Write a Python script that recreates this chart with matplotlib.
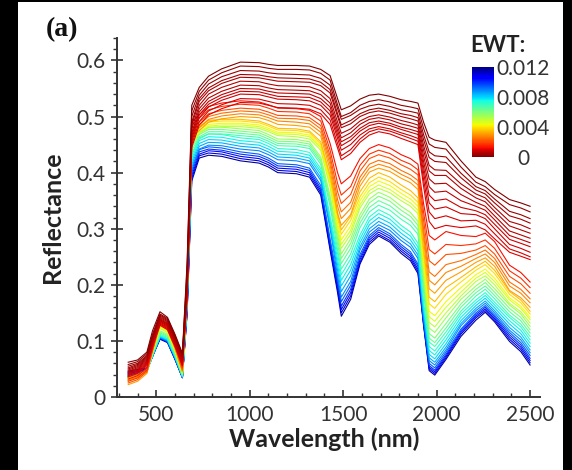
import matplotlib.pyplot as plt
from matplotlib import colors, cm
from matplotlib.patches import Rectangle
from matplotlib.ticker import MultipleLocator, FuncFormatter

# wavelengths (nm) at which each reflectance spectrum is sampled
wavelength = [350, 400, 450, 480, 520, 560, 600, 640, 665, 690,
              730, 780, 850, 950, 1050, 1100, 1150, 1250, 1320,
              1380, 1430, 1470, 1490, 1540, 1590, 1640, 1690, 1750, 1810, 1860,
              1900, 1930, 1960, 1990, 2050, 2130, 2210, 2260, 2310, 2390, 2450, 2500]

# equivalent water thickness of each leaf sample
ewt = [0.0000, 0.0002, 0.0003, 0.0004, 0.0005, 0.0006, 0.0006, 0.0007, 0.0008, 0.0008, 0.0009, 0.0010,
       0.0013, 0.0017, 0.0021, 0.0025, 0.0028, 0.0031,
       0.0035, 0.0039, 0.0043, 0.0047, 0.0051,
       0.0056, 0.0060, 0.0064, 0.0068,
       0.0072, 0.0076, 0.0080, 0.0085, 0.0089,
       0.0094, 0.0099, 0.0104, 0.0110, 0.0117]

# reflectance spectra, one row per sample (same order as ewt)
spectra = [
    [.062, .066, .080, .118, .152, .142, .112, .078, .24, .52,
     .552, .572, .585, .597, .596, .593, .591, .591, .590,
     .584, .573, .532, .512, .519, .531, .538, .540, .536, .530, .527,
     .524, .490, .463, .458, .454, .421, .392, .384, .370, .352, .346, .340],
    [.058, .063, .077, .112, .148, .140, .110, .076, .23, .51,
     .545, .565, .578, .590, .589, .586, .584, .584, .583,
     .577, .565, .521, .500, .507, .520, .527, .530, .526, .520, .517,
     .514, .479, .451, .445, .442, .410, .383, .375, .361, .343, .337, .330],
    [.055, .060, .074, .108, .146, .138, .108, .074, .22, .50,
     .538, .558, .571, .582, .581, .578, .576, .575, .574,
     .568, .556, .514, .495, .502, .513, .519, .522, .518, .512, .509,
     .506, .468, .437, .430, .428, .399, .375, .368, .353, .331, .325, .318],
    [.052, .058, .072, .106, .144, .136, .106, .072, .21, .49,
     .532, .551, .564, .575, .574, .571, .569, .568, .567,
     .561, .548, .505, .485, .493, .505, .512, .515, .511, .505, .502,
     .498, .459, .427, .420, .418, .391, .369, .362, .346, .323, .317, .310],
    [.050, .056, .070, .104, .142, .134, .104, .070, .21, .485,
     .527, .546, .559, .570, .569, .566, .563, .562, .561,
     .555, .542, .500, .480, .487, .500, .507, .510, .506, .500, .496,
     .492, .449, .413, .405, .404, .380, .362, .355, .338, .313, .307, .300],
    [.048, .054, .068, .102, .140, .132, .102, .068, .20, .478,
     .520, .540, .552, .563, .562, .558, .555, .554, .553,
     .546, .532, .490, .470, .478, .492, .500, .503, .499, .493, .489,
     .485, .440, .403, .395, .395, .372, .355, .348, .331, .305, .298, .292],
    [.046, .052, .066, .100, .138, .130, .100, .066, .20, .470,
     .514, .533, .545, .556, .555, .551, .548, .547, .546,
     .539, .524, .482, .462, .471, .486, .495, .498, .494, .487, .483,
     .479, .430, .389, .380, .381, .361, .347, .340, .323, .296, .289, .283],
    [.044, .050, .064, .098, .136, .128, .098, .064, .19, .465,
     .508, .527, .539, .550, .549, .545, .542, .541, .540,
     .532, .517, .475, .455, .464, .479, .489, .492, .488, .481, .477,
     .473, .420, .375, .365, .367, .350, .340, .333, .316, .288, .281, .275],
    [.042, .048, .062, .096, .134, .126, .096, .062, .19, .460,
     .503, .522, .534, .545, .544, .540, .536, .535, .534,
     .526, .510, .468, .448, .458, .474, .484, .488, .484, .477, .472,
     .468, .410, .360, .350, .353, .338, .332, .325, .308, .281, .274, .268],
    [.040, .046, .060, .094, .132, .124, .094, .060, .18, .455,
     .498, .517, .529, .540, .539, .535, .531, .530, .528,
     .520, .503, .461, .440, .450, .467, .478, .482, .478, .471, .466,
     .461, .400, .346, .335, .339, .327, .325, .318, .300, .272, .265, .258],
    [.038, .044, .058, .092, .130, .122, .092, .058, .18, .450,
     .491, .510, .521, .532, .531, .527, .523, .522, .520,
     .512, .494, .452, .430, .441, .460, .473, .478, .474, .467, .461,
     .456, .388, .330, .318, .323, .314, .315, .308, .291, .264, .257, .250],
    [.036, .042, .056, .090, .128, .120, .090, .056, .17, .445,
     .485, .503, .514, .525, .524, .520, .516, .515, .513,
     .505, .486, .444, .423, .434, .454, .467, .473, .469, .461, .455,
     .450, .376, .313, .300, .306, .302, .305, .298, .282, .258, .251, .245],
    [.032, .038, .052, .088, .138, .130, .098, .055, .20, .49,
     .503, .518, .524, .528, .526, .521, .515, .514, .511,
     .500, .452, .400, .380, .394, .425, .443, .450, .444, .432, .425,
     .415, .345, .288, .280, .295, .288, .286, .292, .277, .235, .222, .205],
    [.028, .034, .048, .085, .136, .128, .095, .052, .20, .485,
     .497, .512, .518, .522, .520, .515, .509, .508, .505,
     .492, .440, .381, .360, .375, .413, .433, .440, .434, .422, .415,
     .405, .330, .263, .255, .272, .270, .273, .280, .265, .225, .212, .195],
    [.025, .031, .045, .083, .134, .126, .093, .050, .20, .48,
     .490, .505, .511, .515, .513, .508, .502, .501, .498,
     .484, .430, .366, .345, .361, .403, .425, .432, .426, .414, .406,
     .396, .315, .243, .235, .254, .256, .262, .270, .255, .215, .202, .185],
    [.035, .040, .050, .085, .132, .124, .090, .048, .20, .475,
     .485, .500, .506, .510, .508, .503, .497, .496, .493,
     .478, .422, .352, .330, .347, .392, .415, .422, .416, .404, .396,
     .386, .300, .223, .215, .236, .243, .254, .262, .247, .205, .192, .175],
    [.030, .036, .047, .084, .130, .122, .089, .047, .19, .47,
     .480, .495, .501, .505, .503, .498, .492, .490, .487,
     .472, .414, .340, .318, .336, .384, .408, .415, .409, .397, .389,
     .378, .290, .208, .200, .222, .233, .247, .255, .240, .198, .185, .168],
    [.022, .028, .042, .082, .128, .120, .087, .046, .19, .465,
     .475, .490, .496, .500, .498, .493, .486, .484, .481,
     .465, .405, .328, .306, .325, .376, .401, .408, .402, .390, .382,
     .370, .280, .193, .185, .208, .223, .240, .248, .233, .190, .177, .160],
    [.030, .035, .046, .082, .128, .121, .087, .045, .19, .465,
     .483, .493, .495, .495, .492, .486, .479, .478, .474,
     .455, .395, .326, .298, .322, .366, .390, .400, .392, .378, .368,
     .355, .265, .178, .170, .195, .213, .232, .242, .226, .188, .173, .153],
    [.034, .038, .047, .082, .127, .120, .086, .044, .19, .46,
     .480, .490, .492, .492, .489, .483, .476, .475, .471,
     .451, .390, .319, .290, .315, .357, .382, .392, .384, .370, .360,
     .347, .255, .166, .158, .183, .205, .226, .236, .220, .183, .168, .148],
    [.031, .036, .046, .081, .125, .118, .085, .043, .19, .455,
     .476, .486, .488, .488, .485, .479, .472, .471, .467,
     .447, .385, .310, .280, .305, .350, .375, .385, .377, .363, .353,
     .340, .245, .153, .145, .170, .195, .218, .228, .212, .177, .162, .142],
    [.029, .034, .045, .080, .124, .117, .084, .042, .18, .452,
     .473, .483, .485, .485, .482, .476, .469, .468, .464,
     .444, .380, .302, .272, .297, .343, .368, .378, .370, .356, .346,
     .333, .236, .143, .135, .160, .187, .212, .222, .206, .173, .158, .138],
    [.032, .036, .045, .080, .122, .115, .083, .042, .18, .45,
     .470, .480, .482, .482, .479, .473, .466, .464, .460,
     .440, .374, .295, .265, .290, .337, .362, .372, .364, .350, .340,
     .327, .228, .133, .125, .150, .180, .206, .216, .200, .167, .152, .132],
    [.033, .037, .045, .078, .118, .112, .080, .041, .18, .45,
     .472, .481, .481, .478, .475, .468, .460, .459, .455,
     .428, .358, .290, .255, .282, .325, .353, .365, .356, .340, .329,
     .313, .215, .123, .115, .141, .174, .198, .210, .193, .164, .148, .126],
    [.034, .038, .045, .077, .116, .110, .079, .040, .18, .445,
     .468, .477, .477, .474, .471, .464, .456, .455, .451,
     .424, .354, .282, .247, .274, .318, .346, .358, .349, .333, .322,
     .306, .205, .113, .105, .131, .166, .192, .204, .187, .158, .142, .120],
    [.034, .038, .045, .076, .114, .108, .077, .039, .18, .44,
     .464, .473, .473, .470, .467, .460, .452, .451, .447,
     .420, .348, .273, .238, .265, .310, .338, .350, .341, .325, .314,
     .298, .196, .105, .097, .123, .160, .186, .198, .181, .152, .136, .114],
    [.035, .039, .045, .075, .112, .106, .076, .038, .17, .435,
     .460, .469, .469, .466, .463, .456, .448, .447, .443,
     .415, .340, .263, .228, .255, .302, .330, .342, .333, .317, .306,
     .290, .188, .098, .090, .116, .153, .180, .192, .175, .146, .130, .108],
    [.035, .039, .045, .075, .110, .104, .074, .037, .17, .43,
     .462, .469, .468, .462, .459, .452, .443, .441, .436,
     .407, .322, .256, .218, .246, .289, .321, .334, .324, .306, .294,
     .274, .170, .090, .082, .109, .148, .173, .186, .169, .142, .125, .102],
    [.036, .040, .045, .074, .109, .103, .073, .037, .17, .425,
     .457, .464, .463, .457, .454, .447, .438, .436, .431,
     .402, .317, .246, .208, .236, .282, .314, .327, .317, .299, .287,
     .267, .162, .083, .075, .102, .142, .168, .181, .164, .136, .119, .096],
    [.036, .040, .045, .074, .108, .102, .072, .036, .17, .42,
     .452, .459, .458, .452, .449, .442, .433, .431, .426,
     .397, .312, .236, .198, .226, .275, .307, .320, .310, .292, .280,
     .260, .155, .076, .068, .095, .136, .163, .176, .159, .130, .113, .090],
    [.037, .041, .046, .073, .107, .101, .071, .036, .16, .415,
     .447, .454, .453, .447, .444, .437, .428, .426, .421,
     .391, .306, .226, .188, .216, .268, .300, .313, .303, .285, .273,
     .253, .148, .070, .062, .089, .131, .158, .171, .154, .124, .107, .084],
    [.037, .041, .046, .073, .106, .100, .070, .035, .16, .41,
     .442, .449, .448, .442, .439, .432, .423, .421, .416,
     .386, .300, .216, .178, .206, .262, .294, .307, .297, .279, .267,
     .247, .142, .065, .057, .084, .127, .154, .167, .150, .119, .102, .079],
    [.038, .042, .047, .072, .106, .099, .069, .035, .16, .405,
     .441, .446, .444, .437, .433, .426, .416, .414, .408,
     .377, .282, .210, .170, .199, .254, .288, .302, .291, .272, .259,
     .237, .138, .060, .052, .080, .121, .150, .163, .146, .115, .097, .074],
    [.040, .043, .048, .072, .105, .099, .069, .035, .16, .40,
     .437, .442, .440, .433, .429, .422, .412, .410, .404,
     .372, .276, .203, .162, .192, .249, .284, .298, .287, .268, .255,
     .233, .135, .056, .048, .076, .118, .147, .160, .143, .111, .093, .069],
    [.042, .045, .049, .072, .104, .098, .068, .035, .15, .395,
     .433, .439, .437, .429, .425, .418, .408, .406, .400,
     .368, .271, .198, .156, .186, .245, .280, .294, .283, .264, .251,
     .228, .132, .053, .045, .073, .115, .144, .157, .140, .107, .089, .065],
    [.044, .047, .050, .073, .104, .098, .068, .035, .15, .39,
     .430, .435, .433, .425, .421, .414, .404, .402, .396,
     .364, .266, .192, .150, .180, .240, .276, .290, .279, .260, .247,
     .224, .130, .050, .042, .070, .112, .141, .154, .137, .103, .085, .061],
    [.046, .049, .052, .074, .103, .097, .067, .034, .15, .385,
     .426, .431, .429, .421, .417, .410, .400, .398, .392,
     .360, .262, .186, .144, .174, .237, .272, .287, .276, .256, .243,
     .220, .128, .047, .039, .067, .108, .137, .151, .134, .099, .081, .057],
]

ewt_ticks = [0, 0.004, 0.008, 0.012]
ewt_tick_labels = ['0', '0.004', '0.008', '0.012']

plt.rcParams['font.family'] = ['Lato', 'DejaVu Sans']

W, H = 572, 470
fig = plt.figure(figsize=(W / 100, H / 100), dpi=100)
fig.patch.set_facecolor('black')
fig.add_artist(Rectangle((18 / W, 0), 545 / W, 468 / H, transform=fig.transFigure,
                         facecolor='white', edgecolor='none', zorder=-1))

ax = fig.add_axes([117 / W, 73 / H, 423 / W, 359 / H])
ax.patch.set_alpha(0)

norm = colors.Normalize(vmin=0, vmax=0.012)
cmap = plt.get_cmap('jet_r')

# wettest leaves first so the dry (dark red) spectra end up on top
for i in sorted(range(len(ewt)), key=lambda k: -ewt[k]):
    ax.plot(wavelength, spectra[i], color=cmap(norm(ewt[i])), lw=0.8)

ax.set_xlim(290, 2553)
ax.set_ylim(0, 0.64)
ax.xaxis.set_major_locator(MultipleLocator(500))
ax.xaxis.set_minor_locator(MultipleLocator(100))
ax.yaxis.set_major_locator(MultipleLocator(0.1))
ax.yaxis.set_minor_locator(MultipleLocator(0.02))
ax.yaxis.set_major_formatter(FuncFormatter(lambda v, p: '0' if abs(v) < 1e-9 else f'{v:.1f}'))

for side in ['top', 'right']:
    ax.spines[side].set_visible(False)
for side in ['left', 'bottom']:
    ax.spines[side].set_linewidth(1.4)
    ax.spines[side].set_color('#333333')

ax.tick_params(axis='x', which='major', direction='in', length=5, width=1.2,
               color='#333333', labelsize=15, labelcolor='#333333', pad=6)
ax.tick_params(axis='x', which='minor', direction='in', length=3, width=1, color='#333333')
ax.tick_params(axis='y', which='major', direction='inout', length=8, width=1.2,
               color='#333333', labelsize=15, labelcolor='#333333', pad=4)
ax.tick_params(axis='y', which='minor', direction='out', length=3, width=1, color='#333333')

ax.set_xlabel('Wavelength (nm)', fontsize=18, fontweight='bold', color='#222222')
ax.set_ylabel('Reflectance', fontsize=18, fontweight='bold', color='#222222')
ax.xaxis.set_label_coords(0.49, -0.085)
ax.yaxis.set_label_coords(-0.125, 0.5)

fig.text(46 / W, 1 - 17 / H, '(a)', family='Liberation Serif', fontweight='bold',
         fontsize=20, va='top', ha='left', color='#111111')

cax = fig.add_axes([472 / W, 313 / H, 22 / W, 90 / H])
cb = fig.colorbar(cm.ScalarMappable(norm=norm, cmap=cmap), cax=cax, ticks=ewt_ticks)
cb.ax.set_yticklabels(ewt_tick_labels)
cb.outline.set_visible(False)
cax.tick_params(length=0, pad=21, labelsize=15, labelcolor='#333333')
for t in cax.get_yticklabels():
    t.set_ha('center')
fig.text(498 / W, 1 - 45 / H, 'EWT:', ha='center', va='center', fontsize=16,
         fontweight='bold', color='#222222')

fig.savefig('out.png', dpi=100, facecolor=fig.get_facecolor())
